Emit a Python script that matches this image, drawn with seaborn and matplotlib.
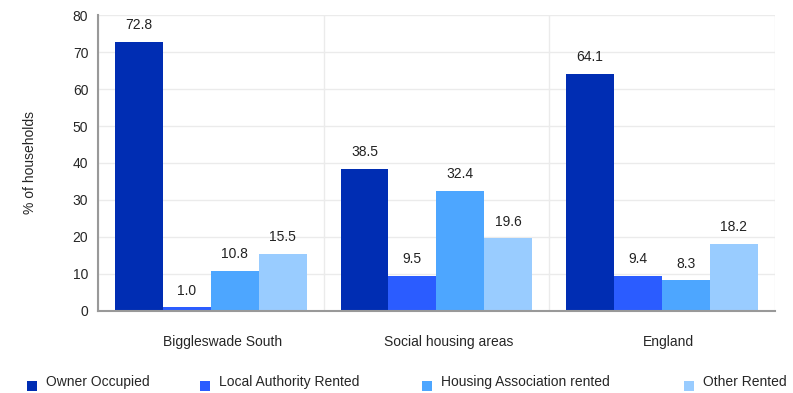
import pandas as pd
import seaborn as sns
import matplotlib.pyplot as plt
import matplotlib.transforms as mtransforms
from matplotlib.patches import Patch, Rectangle
from matplotlib.legend_handler import HandlerPatch

areas = ["Biggleswade South", "Social housing areas", "England"]
tenures = ["Owner Occupied", "Local Authority Rented", "Housing Association rented", "Other Rented"]
owner = [72.8, 38.5, 64.1]
local_auth = [1.0, 9.5, 9.4]
housing_assoc = [10.8, 32.4, 8.3]
other = [15.5, 19.6, 18.2]
colors = ["#002db3", "#2b5cff", "#4da6ff", "#99ccff"]

rows = []
for t, vals in zip(tenures, [owner, local_auth, housing_assoc, other]):
    for a, v in zip(areas, vals):
        rows.append({"area": a, "tenure": t, "pct": v})
df = pd.DataFrame(rows)

sns.set_style("white")
plt.rcParams["font.family"] = ["Liberation Sans", "DejaVu Sans"]
plt.rcParams["font.size"] = 10

fig = plt.figure(figsize=(7.93, 3.93), dpi=100)
ax = fig.add_axes([0.1236, 0.2087, 0.8534, 0.7531])

sns.barplot(data=df, x="area", y="pct", hue="tenure", order=areas, hue_order=tenures,
            palette=colors, width=0.85, saturation=1, legend=False, linewidth=0, ax=ax)

for cont in ax.containers:
    ax.bar_label(cont, fmt="%.1f", padding=7, fontsize=10, color="#222222")

ax.set_ylim(0, 80)
ax.set_xlim(-0.5, 2.5)
ax.set_yticks(range(0, 81, 10))
ax.set_xlabel("")
ax.set_ylabel("% of households", fontsize=10)
ax.yaxis.set_label_coords(-0.09, 0.5)

# grid lines
ax.grid(axis="y", color="#ebebeb", linewidth=1)
ax.set_xticks([-0.5, 0.5, 1.5, 2.5], minor=True)
ax.grid(axis="x", which="minor", color="#ebebeb", linewidth=1)
ax.grid(axis="x", which="major", visible=False)
ax.set_axisbelow(True)

# ticks at the group boundaries, labels at group centres
ax.tick_params(axis="x", which="minor", length=5, width=1, color="#999999", direction="out")
ax.tick_params(axis="x", which="major", length=0, pad=17, labelsize=10)
ax.tick_params(axis="y", length=5, width=1, color="#999999", labelsize=10, pad=2)

# the category labels sit a bit right of the group centres
for lbl, dx in zip(ax.get_xticklabels(), [12, 12, 6]):
    lbl.set_transform(lbl.get_transform() + mtransforms.ScaledTranslation(dx / 100, 0, fig.dpi_scale_trans))

for side in ["top", "right"]:
    ax.spines[side].set_visible(False)
for side in ["left", "bottom"]:
    ax.spines[side].set_color("#999999")
    ax.spines[side].set_linewidth(1.5)


# legend squares sit a little lower than the text
def low_square(legend, orig_handle, xdescent, ydescent, width, height, fontsize):
    return Rectangle((-xdescent, -ydescent - 3.6), width, height)


legend_x = [20, 193, 415, 677]
for name, c, lx in zip(tenures, colors, legend_x):
    fig.legend([Patch(facecolor=c, edgecolor="none")], [name], loc="center left",
               bbox_to_anchor=(lx / 793, 0.028), frameon=False, fontsize=10,
               borderpad=0, handlelength=0.72, handleheight=0.72, handletextpad=0.65,
               handler_map={Patch: HandlerPatch(patch_func=low_square)})

fig.savefig("out.png", dpi=100)
